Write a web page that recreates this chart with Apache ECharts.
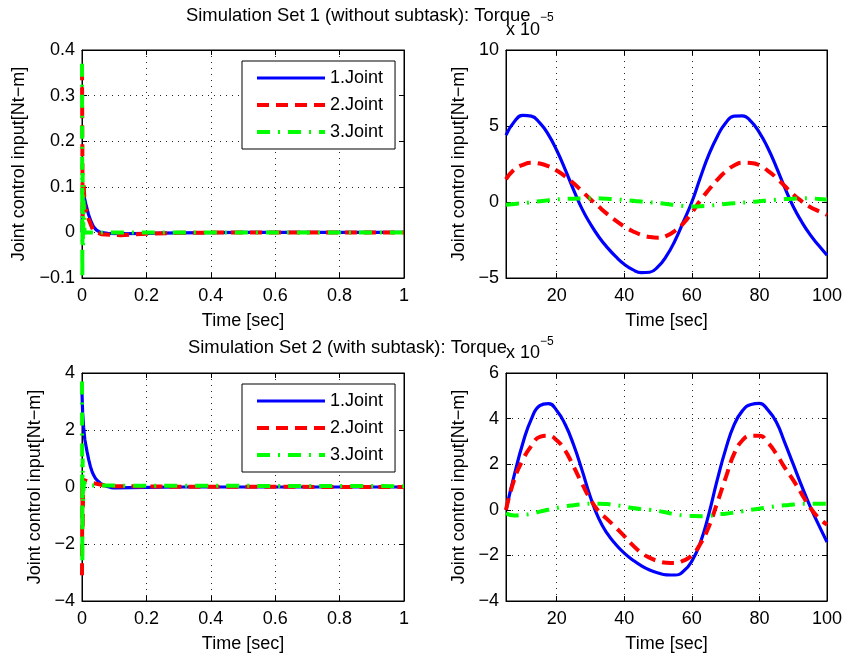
<!DOCTYPE html>
<html><head><meta charset="utf-8">
<script src="https://cdn.jsdelivr.net/npm/echarts@6/dist/echarts.min.js"></script>
<style>html,body{margin:0;padding:0;background:#fff}#c{width:845px;height:657px}</style>
</head><body><div id="c"></div>
<script>
// ---------- data ----------
const seriesNames = ['1.Joint', '2.Joint', '3.Joint'];
const titleTexts = ['Simulation Set 1 (without subtask): Torque', 'Simulation Set 2 (with subtask): Torque'];
const xAxisName = 'Time [sec]';
const yAxisName = 'Joint control input[Nt\u2212m]';
const exponentBase = 'x 10';
const exponentPower = '\u22125';
const rightXTicks = [20, 40, 60, 80, 100];

// Set 1, first second (value in Nt-m)
const set1ShortJ1 = [[0,0.0],[0.002,0.088],[0.006,0.08],[0.012,0.062],[0.02,0.04],[0.028,0.024],[0.036,0.012],[0.045,0.005],[0.057,0.0],[0.08,-0.002],[0.12,-0.003],[0.2,-0.002],[0.3,-0.001],[0.5,0],[1,0]];
const set1ShortJ2 = [[0,0.36],[0.002,0.03],[0.005,0.11],[0.009,0.045],[0.013,0.05],[0.02,0.03],[0.035,0.004],[0.06,-0.004],[0.12,-0.006],[0.2,-0.003],[0.3,-0.001],[0.5,0],[1,0]];
const set1ShortJ3 = [[0,0.37],[0.001,-0.1],[0.002,0.13],[0.003,-0.03],[0.005,0.07],[0.008,0.0],[0.03,0.0],[1,0]];

// Set 1, long run (value x 1e-5 Nt-m), time in sec
const longTime = [5,7.5,10,12.5,15,17.5,20,22.5,25,27.5,30,32.5,35,37.5,40,42.5,45,47.5,50,52.5,55,57.5,60,62.5,65,67.5,70,72.5,75,77.5,80,82.5,85,87.5,90,92.5,95,97.5,100];
const set1LongJ1 = [4.4,5.3,5.7,5.65,5.2,4.45,3.4,2.15,0.8,-0.45,-1.45,-2.3,-3.0,-3.6,-4.1,-4.45,-4.65,-4.62,-4.25,-3.55,-2.55,-1.3,0.0,1.6,3.1,4.3,5.2,5.65,5.67,5.3,4.57,3.55,2.3,0.95,-0.3,-1.3,-2.15,-2.85,-3.5];
const set1LongJ2 = [1.5,2.15,2.45,2.58,2.53,2.36,2.07,1.69,1.23,0.71,0.18,-0.32,-0.8,-1.23,-1.61,-1.92,-2.16,-2.3,-2.35,-2.23,-1.9,-1.4,-0.7,0.1,0.8,1.45,2.0,2.4,2.58,2.57,2.42,2.05,1.6,1.05,0.5,0.05,-0.33,-0.6,-0.85];
const set1LongJ3 = [-0.18,-0.13,-0.08,-0.02,0.05,0.11,0.17,0.2,0.22,0.24,0.25,0.24,0.22,0.18,0.13,0.08,0.03,-0.02,-0.07,-0.13,-0.2,-0.26,-0.3,-0.28,-0.25,-0.19,-0.13,-0.08,-0.04,0.0,0.05,0.1,0.15,0.19,0.22,0.24,0.24,0.2,0.15];

// Set 2, first second (value in Nt-m)
const set2ShortJ1 = [[0,3.3],[0.002,2.6],[0.005,2.1],[0.009,1.65],[0.0155,1.25],[0.021,0.95],[0.026,0.72],[0.031,0.55],[0.036,0.42],[0.042,0.3],[0.05,0.2],[0.057,0.13],[0.067,0.07],[0.078,0.02],[0.09,-0.02],[0.1,-0.03],[0.15,-0.02],[0.3,0],[1,0]];
const set2ShortJ2 = [[0,-3.1],[0.001,0.3],[0.002,-1.5],[0.004,0.25],[0.01,0.2],[0.03,0.15],[0.05,0.1],[0.07,0.05],[0.1,0.03],[0.3,0.01],[1,0]];
const set2ShortJ3 = [[0,3.7],[0.001,-2.7],[0.002,1.0],[0.003,-0.5],[0.006,0.2],[0.01,0.05],[0.03,0.05],[1,0.03]];

// Set 2, long run (value x 1e-5 Nt-m), same time samples
const set2LongJ1 = [0.0,1.55,2.93,3.98,4.57,4.66,4.36,3.75,2.85,1.74,0.55,-0.4,-1.05,-1.52,-1.9,-2.2,-2.45,-2.64,-2.77,-2.85,-2.86,-2.7,-2.25,-1.45,-0.2,1.3,2.65,3.72,4.35,4.62,4.67,4.38,3.85,2.95,2.0,1.05,0.15,-0.65,-1.41];
const set2LongJ2 = [0.0,1.35,2.2,2.8,3.2,3.25,3.05,2.6,1.9,1.15,0.45,-0.08,-0.42,-0.78,-1.15,-1.55,-1.88,-2.1,-2.25,-2.32,-2.33,-2.23,-2.0,-1.5,-0.75,0.3,1.4,2.45,3.05,3.25,3.25,2.95,2.45,1.85,1.3,0.7,0.1,-0.35,-0.65];
const set2LongJ3 = [-0.15,-0.25,-0.22,-0.18,-0.08,0.0,0.08,0.15,0.2,0.24,0.27,0.27,0.25,0.2,0.15,0.08,0.03,0.0,-0.05,-0.12,-0.2,-0.25,-0.27,-0.28,-0.27,-0.2,-0.17,-0.12,-0.06,0.0,0.05,0.11,0.16,0.2,0.23,0.27,0.27,0.27,0.27];

// ---------- styling ----------
const FONT = '"Liberation Sans", Arial, Helvetica, sans-serif';
const colors = ['#0000ff', '#ff0000', '#00ff00'];
const widths = [3.2, 4, 4];
const dashes = ['solid', [12, 7], [13, 8, 2, 8]];

const pair = (xs, ys) => ys.map((y, i) => [xs[i], y]);

const panels = [
  {grid:{left:82, top:50, width:322, height:228}, x:{min:0, max:1, interval:0.2}, y:{min:-0.1, max:0.4, interval:0.1}, yGap:54, smooth:false, data:[set1ShortJ1, set1ShortJ2, set1ShortJ3]},
  {grid:{left:506, top:50, width:321, height:228}, x:{min:5, max:100, ticks:rightXTicks}, y:{min:-5, max:10, interval:5}, yGap:38, smooth:true, data:[pair(longTime, set1LongJ1), pair(longTime, set1LongJ2), pair(longTime, set1LongJ3)]},
  {grid:{left:82, top:373, width:322, height:228}, x:{min:0, max:1, interval:0.2}, y:{min:-4, max:4, interval:2}, yGap:38, smooth:false, data:[set2ShortJ1, set2ShortJ2, set2ShortJ3]},
  {grid:{left:506, top:373, width:321, height:228}, x:{min:5, max:100, ticks:rightXTicks}, y:{min:-4, max:6, interval:2}, yGap:38, smooth:true, data:[pair(longTime, set2LongJ1), pair(longTime, set2LongJ2), pair(longTime, set2LongJ3)]}
];

function fmt(v) {
  const r = Math.round(v * 1e6) / 1e6;
  return String(r).replace('-', '\u2212');
}
const gridLine = {show:true, lineStyle:{color:'#000', width:1, type:[1, 5], opacity:0.85}};
const axisLine = {show:true, onZero:false, lineStyle:{color:'#000', width:1}};
const tick = {show:true, inside:true, length:5, lineStyle:{color:'#000', width:1}};
const nameStyle = {color:'#000', fontSize:18, fontFamily:FONT};

const grids = [], xAxes = [], yAxes = [], series = [];
panels.forEach((p, gi) => {
  grids.push(Object.assign({show:true, borderColor:'#000', borderWidth:1, backgroundColor:'#fff', outerBoundsMode:'none', containLabel:false}, p.grid));
  const xb = {type:'value', gridIndex:gi, position:'bottom', min:p.x.min, max:p.x.max,
    axisLine:axisLine, axisTick:Object.assign({}, tick),
    axisLabel:{color:'#000', fontSize:18, fontFamily:FONT, margin:9, formatter:fmt},
    splitLine:gridLine,
    name:xAxisName, nameLocation:'middle', nameGap:34, nameTextStyle:nameStyle};
  const xt = {type:'value', gridIndex:gi, position:'top', min:p.x.min, max:p.x.max,
    axisLine:axisLine, axisTick:Object.assign({}, tick), axisLabel:{show:false}, splitLine:{show:false}};
  if (p.x.interval) { xb.interval = p.x.interval; xt.interval = p.x.interval; }
  if (p.x.ticks) {
    xb.axisTick.customValues = p.x.ticks; xb.axisLabel.customValues = p.x.ticks;
    xt.axisTick.customValues = p.x.ticks; xt.axisLabel.customValues = p.x.ticks;
    xb.splitLine = {show:false};
  }
  xAxes.push(xb, xt);
  yAxes.push({type:'value', gridIndex:gi, position:'left', min:p.y.min, max:p.y.max, interval:p.y.interval,
    axisLine:axisLine, axisTick:tick,
    axisLabel:{color:'#000', fontSize:18, fontFamily:FONT, margin:7, formatter:fmt},
    splitLine:gridLine,
    name:yAxisName, nameLocation:'middle', nameGap:p.yGap, nameRotate:90, nameTextStyle:nameStyle},
    {type:'value', gridIndex:gi, position:'right', min:p.y.min, max:p.y.max, interval:p.y.interval,
    axisLine:axisLine, axisTick:tick, axisLabel:{show:false}, splitLine:{show:false}});
  p.data.forEach((d, si) => {
    const s = {type:'line', name:seriesNames[si], xAxisIndex:gi*2, yAxisIndex:gi*2, data:d,
      symbol:'none', showSymbol:false, smooth:p.smooth ? 0.5 : false, clip:true, animation:false,
      lineStyle:{color:colors[si], width:widths[si], type:dashes[si], cap:'butt'},
      itemStyle:{color:colors[si]}, z:3 + si};
    if (p.x.ticks && si === 0) {
      s.markLine = {silent:true, symbol:'none', label:{show:false}, animation:false,
        lineStyle:{color:'#000', width:1, type:[1, 5], opacity:0.85},
        data:p.x.ticks.filter(v => v < p.x.max).map(v => ({xAxis:v}))};
    }
    series.push(s);
  });
});

const legendData = seriesNames.map((n, i) => ({name:n, lineStyle:{width:widths[i], color:colors[i], type:dashes[i]}, itemStyle:{opacity:0}}));
const legendBase = {orient:'vertical', left:242, data:legendData, itemWidth:68, itemHeight:14, itemGap:9,
  padding:[8, 12, 8, 13], borderColor:'#000', borderWidth:1, backgroundColor:'#fff', selectedMode:false,
  itemStyle:{opacity:0, borderWidth:0},
  textStyle:{color:'#000', fontSize:18, fontFamily:FONT}};

const titleStyle = {color:'#000', fontSize:18.4, fontWeight:'normal', fontFamily:FONT};
const option = {
  backgroundColor:'#fff',
  animation:false,
  title:[
    {text:titleTexts[0], left:186, top:7, padding:0, textStyle:titleStyle},
    {text:titleTexts[1], left:188, top:339, padding:0, textStyle:titleStyle}
  ],
  legend:[Object.assign({top:61}, legendBase), Object.assign({top:384}, legendBase)],
  grid:grids, xAxis:xAxes, yAxis:yAxes, series:series,
  graphic:[
    {type:'text', left:506, top:21, z:100, style:{text:exponentBase, fill:'#000', font:'18px ' + FONT}},
    {type:'text', left:540, top:12, z:100, style:{text:exponentPower, fill:'#000', font:'12px ' + FONT}},
    {type:'text', left:506, top:344, z:100, style:{text:exponentBase, fill:'#000', font:'18px ' + FONT}},
    {type:'text', left:540, top:336, z:100, style:{text:exponentPower, fill:'#000', font:'12px ' + FONT}}
  ]
};
const chart = echarts.init(document.getElementById('c'), null, {renderer:'canvas'});
chart.setOption(option);
</script></body></html>
